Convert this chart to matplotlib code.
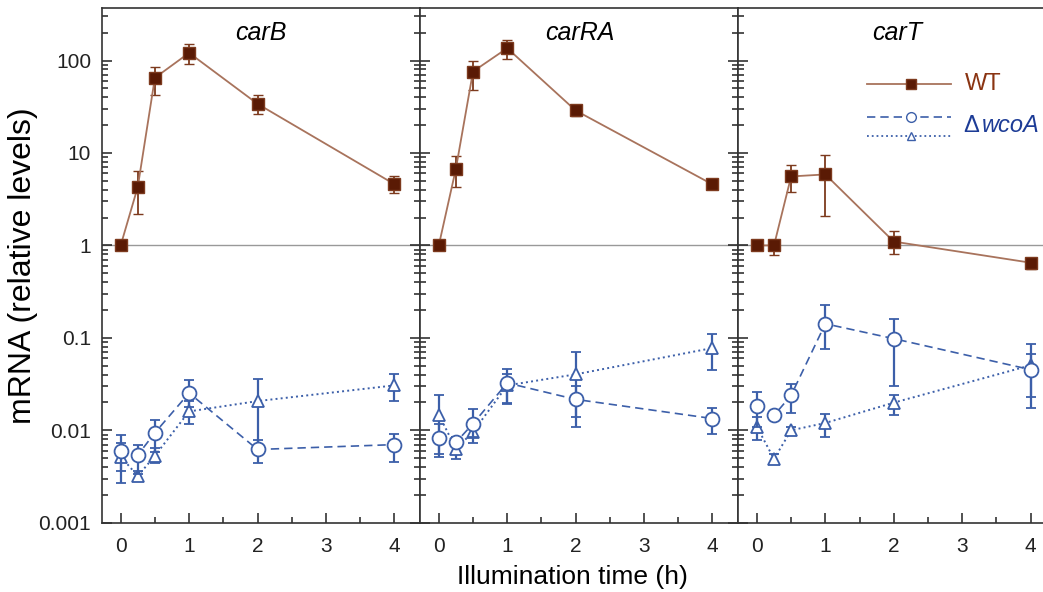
import matplotlib
matplotlib.use("Agg")
import matplotlib.pyplot as plt
from matplotlib.ticker import LogLocator, FixedLocator, NullFormatter
import numpy as np

plt.rcParams['font.family'] = ['Liberation Sans', 'DejaVu Sans']

# tiempos de iluminacion (h)
t = [0, 0.25, 0.5, 1, 2, 4]
genes = ["carB", "carRA", "carT"]

# carB
carB_wt = [1.0, 4.3, 65, 121, 34, 4.6]
carB_wt_lo = [1.0, 2.2, 42, 92, 26.5, 3.7]
carB_wt_hi = [1.0, 6.4, 85, 151, 42.6, 5.7]
carB_circ = [0.0059, 0.0054, 0.0094, 0.0253, 0.0062, 0.0070]
carB_circ_lo = [0.0027, 0.0034, 0.0058, 0.018, 0.0044, 0.0045]
carB_circ_hi = [0.0088, 0.0069, 0.0128, 0.0353, 0.0078, 0.0092]
carB_tri = [0.0052, 0.0032, 0.0053, 0.016, 0.0207, 0.0306]
carB_tri_lo = [0.0036, 0.0030, 0.0044, 0.0116, 0.0066, 0.0207]
carB_tri_hi = [0.0072, 0.0036, 0.0064, 0.021, 0.0359, 0.041]

# carRA
carRA_wt = [1.0, 6.75, 76, 136, 28.8, 4.57]
carRA_wt_lo = [1.0, 4.3, 48, 104, 25.4, 4.1]
carRA_wt_hi = [1.0, 9.2, 100, 167, 32.6, 5.05]
carRA_circ = [0.0083, 0.0074, 0.0118, 0.0325, 0.0216, 0.0134]
carRA_circ_lo = [0.0052, 0.0068, 0.0085, 0.0194, 0.0109, 0.0092]
carRA_circ_hi = [0.0116, 0.0085, 0.0171, 0.0465, 0.030, 0.0174]
carRA_tri = [0.0148, 0.0063, 0.0096, 0.0306, 0.0403, 0.0776]
carRA_tri_lo = [0.0055, 0.0049, 0.0073, 0.0196, 0.0139, 0.0446]
carRA_tri_hi = [0.0243, 0.0075, 0.0118, 0.041, 0.0703, 0.109]

# carT
carT_wt = [1.0, 1.0, 5.57, 5.86, 1.1, 0.65]
carT_wt_lo = [1.0, 0.78, 3.77, 2.06, 0.81, 0.56]
carT_wt_hi = [1.0, 1.15, 7.5, 9.6, 1.42, 0.73]
carT_circ = [0.0183, 0.0145, 0.0239, 0.142, 0.098, 0.0453]
carT_circ_lo = [0.0109, 0.0135, 0.0154, 0.076, 0.030, 0.0229]
carT_circ_hi = [0.026, 0.0155, 0.032, 0.224, 0.161, 0.0675]
carT_tri = [0.0109, 0.0049, 0.0100, 0.012, 0.0199, 0.0504]
carT_tri_lo = [0.0078, 0.0044, 0.0092, 0.0085, 0.0145, 0.0176]
carT_tri_hi = [0.0139, 0.0056, 0.0109, 0.0149, 0.0239, 0.0865]

ytick_vals = [0.001, 0.01, 0.1, 1, 10, 100]
ytick_labels = ["0.001", "0.01", "0.1", "1", "10", "100"]

BROWN_LINE = "#a8735c"
BROWN_MK = "#5a1a04"
BROWN_TXT = "#8a3412"
BLUE = "#3c5fa9"
BLUE_TXT = "#1d3c96"


def yerr(v, lo, hi):
    v = np.array(v); lo = np.array(lo); hi = np.array(hi)
    return [v - lo, hi - v]


def main():
    datos = [
        (carB_wt, carB_wt_lo, carB_wt_hi, carB_circ, carB_circ_lo, carB_circ_hi, carB_tri, carB_tri_lo, carB_tri_hi),
        (carRA_wt, carRA_wt_lo, carRA_wt_hi, carRA_circ, carRA_circ_lo, carRA_circ_hi, carRA_tri, carRA_tri_lo, carRA_tri_hi),
        (carT_wt, carT_wt_lo, carT_wt_hi, carT_circ, carT_circ_lo, carT_circ_hi, carT_tri, carT_tri_lo, carT_tri_hi),
    ]

    fig, axs = plt.subplots(1, 3, figsize=(10.43, 5.92), dpi=100, sharey=True)
    # el panel carT queda cortado por la derecha, como en la figura original
    fig.subplots_adjust(left=0.098, right=1.013, top=0.9865, bottom=0.117, wspace=0)

    for ax, gen, d in zip(axs, genes, datos):
        wt, wlo, whi, c, clo, chi, tr, tlo, thi = d
        ax.set_yscale("log")
        ax.axhline(1, color="#999999", lw=1, zorder=0)

        ax.errorbar(t, tr, yerr=yerr(tr, tlo, thi), color=BLUE, ls=":", lw=1.4,
                    marker="^", ms=9, mfc="white", mec=BLUE, mew=1.3,
                    elinewidth=1.6, capsize=3.5, capthick=1.4, zorder=3)
        ax.errorbar(t, c, yerr=yerr(c, clo, chi), color=BLUE, ls=(0, (5, 3)), lw=1.2,
                    marker="o", ms=10, mfc="white", mec=BLUE, mew=1.3,
                    elinewidth=1.6, capsize=3.5, capthick=1.4, zorder=4)
        ax.errorbar(t, wt, yerr=yerr(wt, wlo, whi), color=BROWN_LINE, ls="-", lw=1.3,
                    marker="s", ms=9, mfc=BROWN_MK, mec="#7d3a1e", mew=1,
                    ecolor="#7d3a1e", elinewidth=1.3, capsize=3.5, capthick=1.2, zorder=5)

        ax.set_xlim(-0.27, 4.38)
        ax.set_ylim(0.001, 370)
        ax.xaxis.set_major_locator(FixedLocator([0, 1, 2, 3, 4]))
        ax.xaxis.set_minor_locator(FixedLocator([0.5, 1.5, 2.5, 3.5]))
        ax.yaxis.set_major_locator(FixedLocator(ytick_vals))
        ax.yaxis.set_minor_locator(LogLocator(base=10, subs=np.arange(2, 10), numticks=20))
        ax.yaxis.set_minor_formatter(NullFormatter())
        ax.tick_params(which="both", direction="in", right=True, top=False, labelsize=15,
                       width=1.1, colors="#222222")
        ax.tick_params(which="major", length=7)
        ax.tick_params(which="minor", length=4)
        ax.tick_params(axis="x", pad=10)
        ax.tick_params(axis="y", pad=8)
        for s in ax.spines.values():
            s.set_linewidth(1.2)
            s.set_color("#333333")
        ax.text(0.5, 0.952, gen, transform=ax.transAxes, ha="center", va="center",
                fontsize=18, style="italic")

    axs[0].set_yticklabels(ytick_labels)
    fig.text(0.022, 0.552, "mRNA (relative levels)", rotation=90, ha="center", va="center",
             fontsize=23)
    fig.text(0.549, 0.025, "Illumination time (h)", ha="center", va="center", fontsize=19)

    # leyenda dibujada a mano en el panel carT
    ax = axs[2]
    ax.plot([0.404, 0.667], [0.852, 0.852], transform=ax.transAxes, color=BROWN_LINE, lw=1.3)
    ax.plot([0.543], [0.852], transform=ax.transAxes, marker="s", ms=6.5, mfc=BROWN_MK, mec="#7d3a1e")
    ax.text(0.712, 0.852, "WT", transform=ax.transAxes, color=BROWN_TXT, fontsize=17, va="center")
    ax.plot([0.404, 0.667], [0.788, 0.788], transform=ax.transAxes, color=BLUE, lw=1.2, ls=(0, (5, 3)))
    ax.plot([0.543], [0.788], transform=ax.transAxes, marker="o", ms=7, mfc="white", mec=BLUE)
    ax.plot([0.404, 0.667], [0.751, 0.751], transform=ax.transAxes, color=BLUE, lw=1.3, ls=":")
    ax.plot([0.543], [0.751], transform=ax.transAxes, marker="^", ms=6, mfc="white", mec=BLUE)
    ax.text(0.708, 0.771, "\u0394", transform=ax.transAxes, color=BLUE_TXT, fontsize=17, va="center")
    ax.text(0.764, 0.771, "wcoA", transform=ax.transAxes, color=BLUE_TXT, fontsize=17, va="center",
            style="italic")

    plt.savefig("out.png", dpi=100)


if __name__ == "__main__":
    main()
